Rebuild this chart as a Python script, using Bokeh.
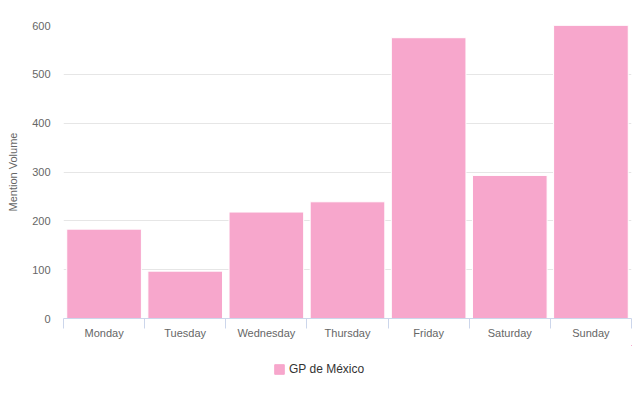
from bokeh.plotting import figure
from bokeh.models import FixedTicker, Range1d, ColumnDataSource, Legend, LegendItem
from bokeh.layouts import column
from bokeh.embed import file_html
from bokeh.resources import INLINE

days = ["Monday", "Tuesday", "Wednesday", "Thursday", "Friday", "Saturday", "Sunday"]
mentions = [183, 97, 218, 239, 575, 293, 600]
series_name = "GP de México"
y_ticks = [0, 100, 200, 300, 400, 500, 600]

FONT = "Liberation Sans"
PINK = "#f7a7cc"

centers = [i + 0.5 for i in range(len(days))]
bounds = [float(i) for i in range(len(days) + 1)]
src = ColumnDataSource(dict(x=centers, top=mentions, day=days))

p = figure(output_backend="svg", toolbar_location=None,
           width=636, height=345,
           min_border_left=63, min_border_right=5, min_border_top=25, min_border_bottom=27,
           x_range=Range1d(0, len(days)), y_range=Range1d(0, 600))
p.outline_line_color = None
p.background_fill_color = "white"
p.border_fill_color = "white"

r = p.vbar(x="x", top="top", width=0.92, bottom=0, source=src,
           fill_color=PINK, line_color="white", line_width=1)

# x axis
xa = p.xaxis[0]
xa.ticker = FixedTicker(ticks=centers, minor_ticks=bounds)
xa.major_label_overrides = {c: d for c, d in zip(centers, days)}
xa.major_tick_out = 0
xa.major_tick_in = 0
xa.minor_tick_out = 10
xa.minor_tick_in = 0
xa.minor_tick_line_color = "#ccd6eb"
xa.axis_line_color = "#ccd6eb"
xa.major_label_text_font = FONT
xa.major_label_text_font_size = "11px"
xa.major_label_text_color = "#666666"
xa.major_label_standoff = -2

# y axis
ya = p.yaxis[0]
ya.ticker = FixedTicker(ticks=y_ticks)
ya.axis_line_color = None
ya.major_tick_line_color = None
ya.minor_tick_line_color = None
ya.major_tick_out = 0
ya.major_label_text_font = FONT
ya.major_label_text_font_size = "11px"
ya.major_label_text_color = "#666666"
ya.major_label_standoff = 13
ya.axis_label = "Mention Volume"
ya.axis_label_text_font = FONT
ya.axis_label_text_font_size = "11px"
ya.axis_label_text_font_style = "normal"
ya.axis_label_text_color = "#666666"
ya.axis_label_standoff = 10

p.xgrid.grid_line_color = None
p.ygrid.grid_line_color = "#e6e6e6"
p.ygrid.ticker = FixedTicker(ticks=y_ticks)

# legend strip
lg = figure(output_backend="svg", toolbar_location=None, width=636, height=54,
            min_border=0, x_range=Range1d(-10, -9), y_range=Range1d(-10, -9))
lg.axis.visible = False
lg.grid.visible = False
lg.outline_line_color = None
lr = lg.vbar(x="x", top="top", width=0.92, bottom=0, source=src,
             fill_color=PINK, line_color=PINK)
legend = Legend(items=[LegendItem(label=series_name, renderers=[lr])],
                orientation="horizontal", location=(210, 23),
                label_text_font=FONT, label_text_font_size="12px",
                label_text_color="#333333", border_line_color=None,
                background_fill_alpha=0,
                glyph_width=12, glyph_height=12, margin=0, padding=6,
                label_standoff=4)
lg.add_layout(legend, "center")

open("out.html", "w").write(file_html(column(p, lg, spacing=0), INLINE))
